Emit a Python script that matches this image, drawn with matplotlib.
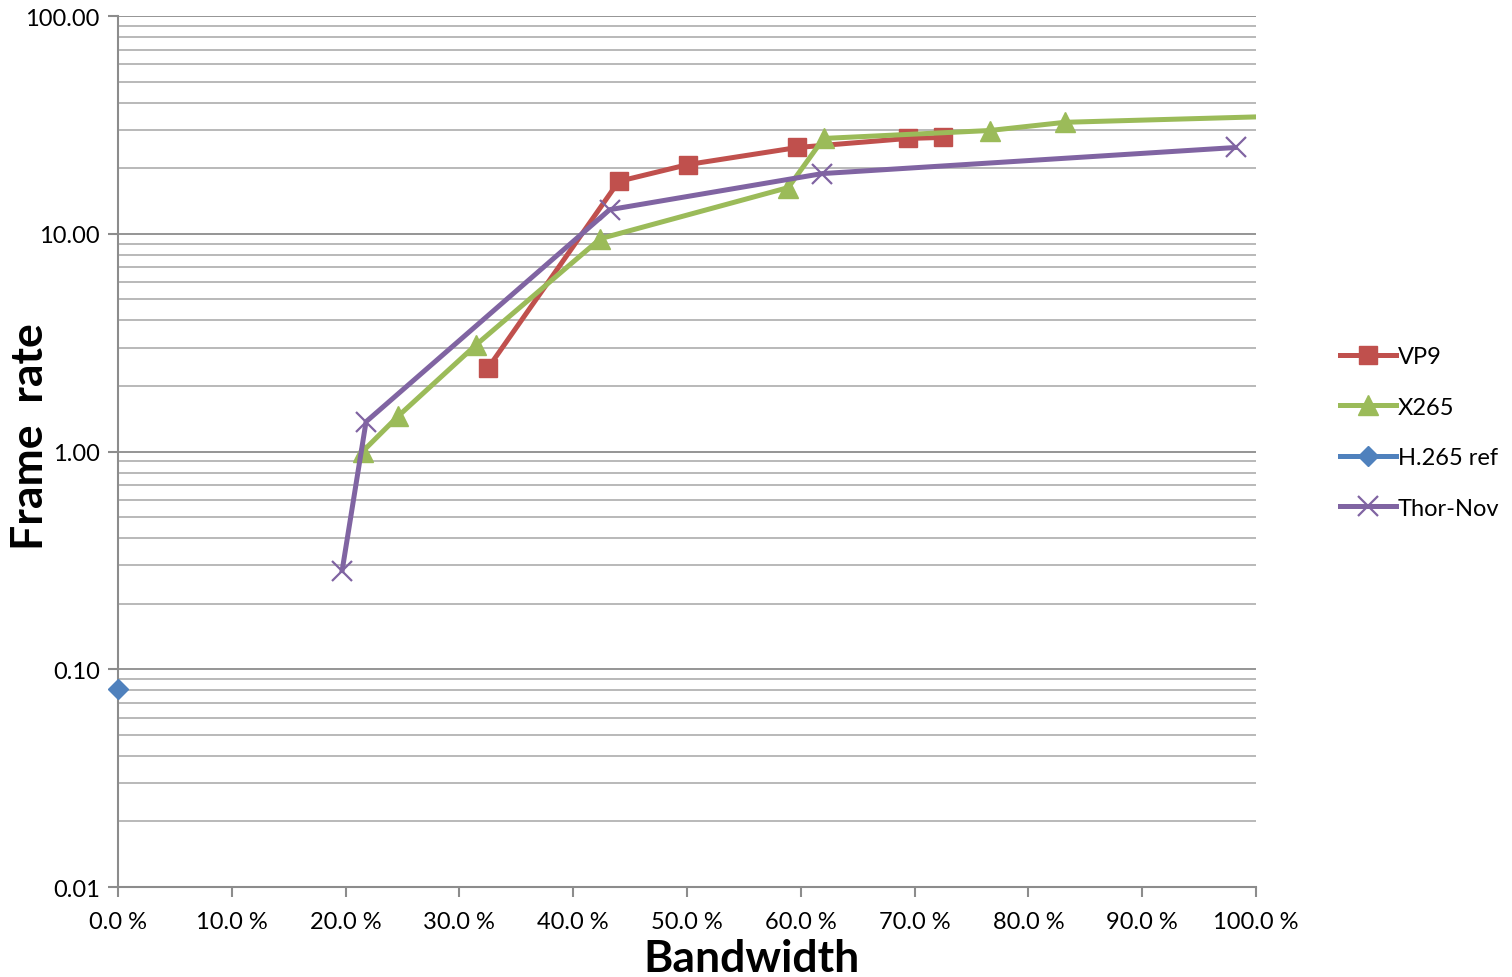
import matplotlib.pyplot as plt
from matplotlib.ticker import FixedLocator, FuncFormatter, LogLocator, NullFormatter

# Data (bandwidth %, frame rate)
vp9_x = [32.5, 44.0, 50.1, 59.7, 69.4, 72.5]
vp9_y = [2.41, 17.4, 20.8, 24.9, 27.4, 27.7]

x265_x = [21.5, 24.6, 31.5, 42.4, 58.9, 62.0, 76.6, 83.2, 110.0]
x265_y = [1.0, 1.45, 3.10, 9.5, 16.3, 27.4, 29.8, 32.5, 35.6]

h265_x = [0.0]
h265_y = [0.0815]

thor_x = [19.7, 21.8, 43.2, 61.9, 98.2]
thor_y = [0.284, 1.37, 12.9, 18.9, 24.9]

plt.rcParams['font.family'] = ['Lato', 'DejaVu Sans']

fig = plt.figure(figsize=(15.12, 9.78), dpi=100)
ax = fig.add_axes([0.078, 0.092, 0.7527, 0.8906])

lw = 3.6
ax.plot(vp9_x, vp9_y, color='#C0504D', lw=lw, marker='s', markersize=13, label='VP9', zorder=3)
ax.plot(x265_x, x265_y, color='#9BBB59', lw=lw, marker='^', markersize=14, label='X265', zorder=3)
ax.plot(h265_x, h265_y, color='#4F81BD', lw=lw, marker='D', markersize=10, label='H.265 ref',
        zorder=4, clip_on=False)
ax.plot(thor_x, thor_y, color='#8064A2', lw=lw, marker='x', markersize=15, markeredgewidth=1.6,
        label='Thor-Nov', zorder=3)

ax.set_yscale('log')
ax.set_ylim(0.01, 100)
ax.set_xlim(0, 100)

ax.yaxis.set_major_locator(FixedLocator([0.01, 0.1, 1, 10, 100]))
ax.yaxis.set_major_formatter(FuncFormatter(lambda v, p: f'{v:.2f}'))
ax.yaxis.set_minor_locator(LogLocator(base=10, subs=range(2, 10)))
ax.yaxis.set_minor_formatter(NullFormatter())

ax.set_xticks(range(0, 101, 10))
ax.xaxis.set_major_formatter(FuncFormatter(lambda v, p: f'{v:.1f} %'))

ax.grid(True, axis='y', which='major', color='#8c8c8c', lw=1.3)
ax.grid(True, axis='y', which='minor', color='#b3b3b3', lw=1.3)
ax.set_axisbelow(True)

for s in ['top', 'right']:
    ax.spines[s].set_visible(False)
for s in ['left', 'bottom']:
    ax.spines[s].set_color('#8c8c8c')
    ax.spines[s].set_linewidth(1.5)

ax.tick_params(axis='both', which='major', labelsize=17, color='#8c8c8c', width=1.5, length=7)
ax.tick_params(axis='y', which='minor', length=0)
ax.tick_params(axis='x', pad=10)
ax.tick_params(axis='y', pad=6)

ax.set_xlabel('Bandwidth', fontsize=32, fontweight='bold')
ax.xaxis.set_label_coords(0.557, -0.058)
ax.set_ylabel('Frame  rate', fontsize=32, fontweight='bold')
ax.yaxis.set_label_coords(-0.060, 0.518)

leg = ax.legend(loc='center left', bbox_to_anchor=((1340 - 118) / 1138, 0.522), frameon=False,
                fontsize=17, handlelength=2.35, handletextpad=0.1, labelspacing=1.25,
                borderpad=0, borderaxespad=0)

fig.savefig('out.png', dpi=100)
